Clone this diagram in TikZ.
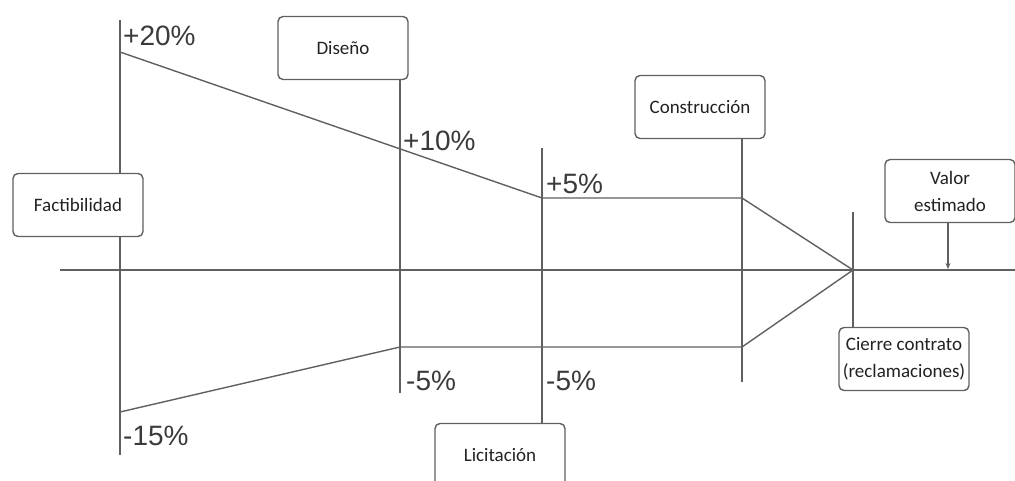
\documentclass[tikz,border=0pt]{standalone}
\usepackage{fontspec}
\setmainfont{Liberation Sans}
\newfontfamily\boxfont{Carlito}
\usetikzlibrary{arrows.meta}
\definecolor{ln}{HTML}{606060}
\definecolor{tx}{HTML}{3a3a3a}
\definecolor{bt}{HTML}{222222}
\begin{document}
\begin{tikzpicture}[x=1pt,y=-1pt,
  phase/.style={draw=ln,line width=1.4pt,rounded corners=5pt,fill=white,
    minimum width=130pt,minimum height=63pt,inner sep=2pt,align=center,
    font=\boxfont\fontsize{19}{27}\selectfont,text=bt},
  guide/.style={draw=ln,line width=1.4pt},
  pct/.style={anchor=base west,inner sep=0pt,text=tx,font=\fontsize{28}{30}\selectfont}]
\useasboundingbox (0,0) rectangle (1015,480);
\clip (0,0) rectangle (1015,480);
% axis
\coordinate (axL) at (60,270);
\coordinate (axR) at (1015,270);
\draw[guide] (axL) -- (axR);
% coordinates
\coordinate (fT) at (120,20);
\coordinate (fB) at (120,455);
\coordinate (dB) at (400,393);
\coordinate (lT) at (542,148);
\coordinate (cB) at (742,382);
\coordinate (zT) at (853,212);
\coordinate (u0) at (120,52);
\coordinate (u1) at (542,198);
\coordinate (u2) at (742,198);
\coordinate (tip) at (853,270);
\coordinate (b0) at (120,412);
\coordinate (b1) at (400,347);
\coordinate (b2) at (742,347);
% envelope
\draw[guide,line join=round] (u0) -- (u1) -- (u2) -- (tip) -- (b2) -- (b1) -- (b0);
% factibilidad line
\draw[guide] (fT) -- (fB);
% boxes
\node[phase] (fac) at (78,205) {Factibilidad};
\node[phase] (dis) at (343,48) {Diseño};
\node[phase] (lic) at (500,455) {Licitación};
\node[phase] (con) at (700,107) {Construcción};
\node[phase] (val) at (950,191) {Valor\\estimado};
\node[phase] (cie) at (904,359) {Cierre contrato\\(reclamaciones)};
% phase lines
\draw[guide] (dis.south -| dB) -- (dB);
\draw[guide] (lT) -- (lic.north -| lT);
\draw[guide] (con.south -| cB) -- (cB);
\draw[guide] (zT) -- (cie.north -| zT);
\coordinate (vA) at (948,269);
\draw[guide,-{Stealth[length=6pt,width=5pt]}] (val.south -| vA) -- (vA);
% labels
\node[pct] (p20) at (123,45) {+20\%};
\node[pct] (p10) at (403,150) {+10\%};
\node[pct] (p5) at (546,193) {+5\%};
\node[pct] (m5a) at (406,390) {-5\%};
\node[pct] (m5b) at (546,390) {-5\%};
\node[pct] (m15) at (123,445) {-15\%};
\end{tikzpicture}
\end{document}
